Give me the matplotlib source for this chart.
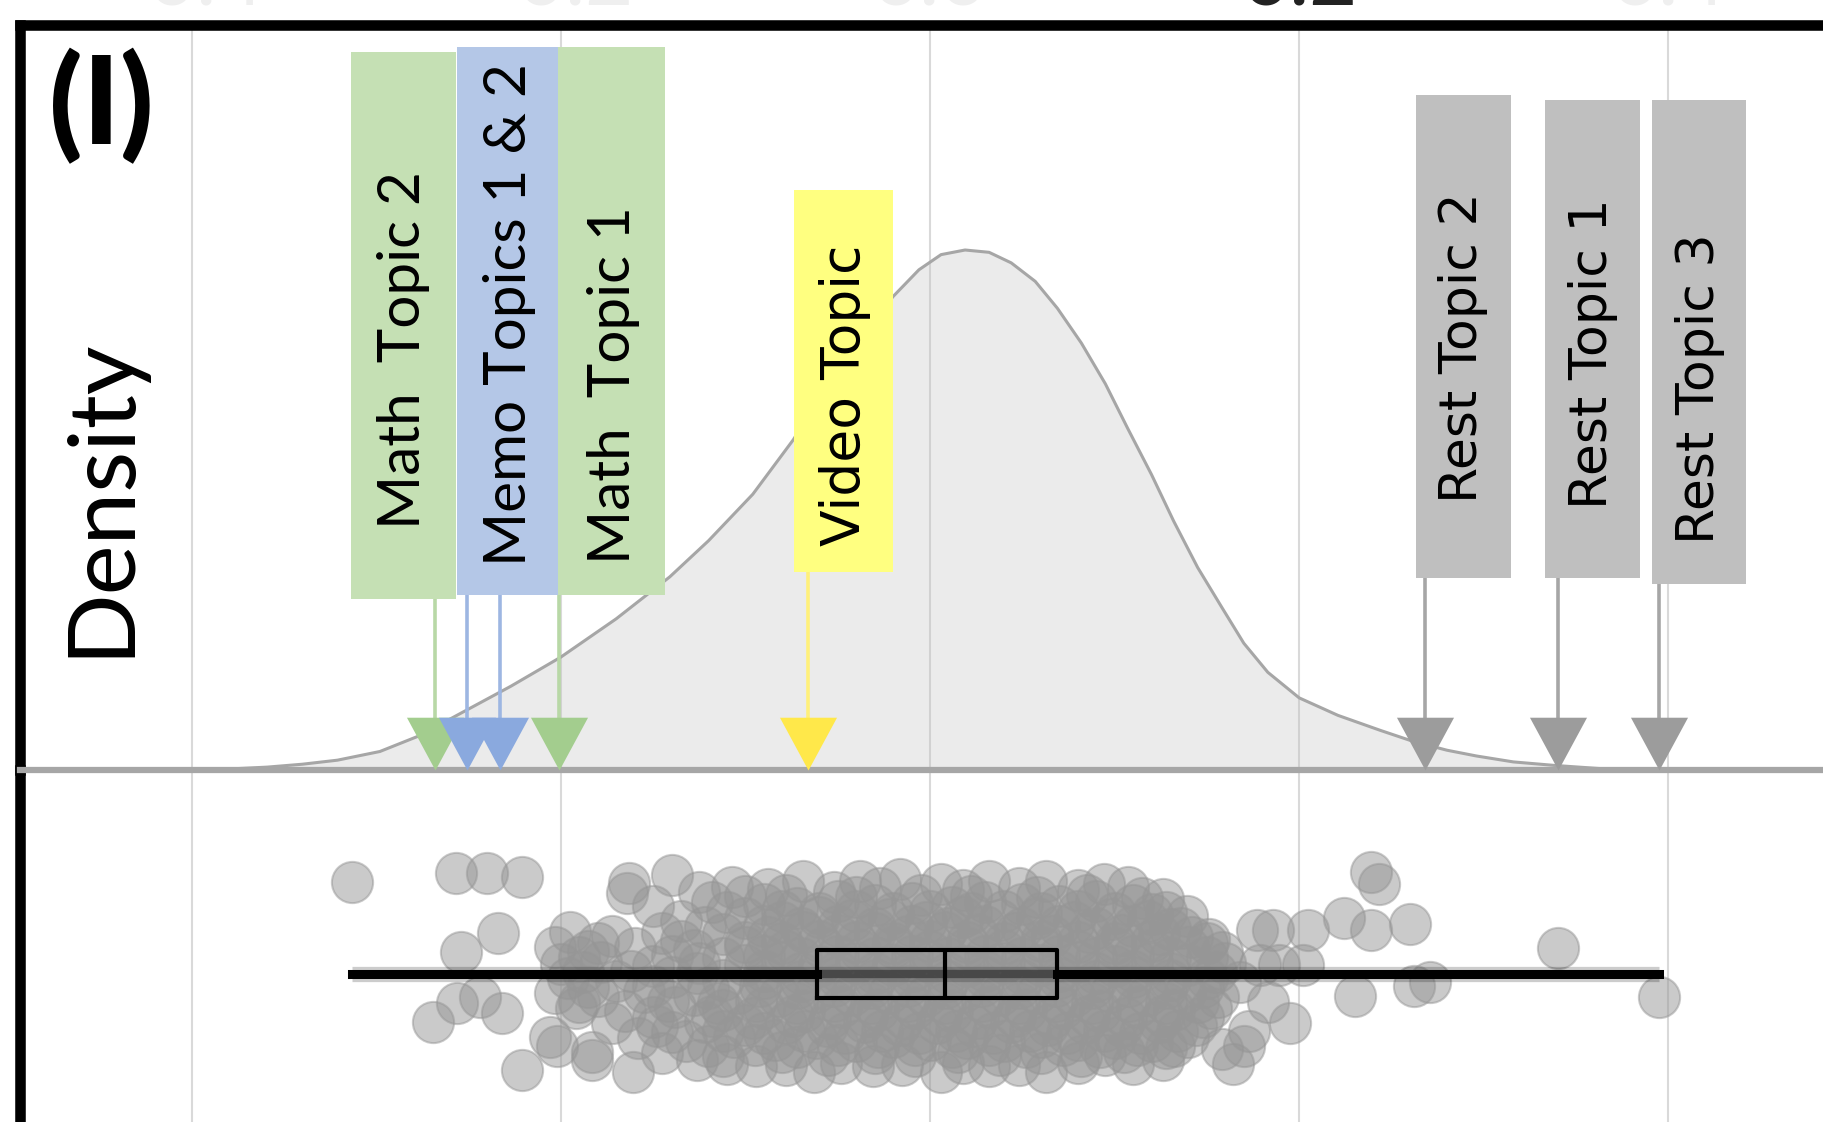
import matplotlib
matplotlib.use("Agg")
import matplotlib.pyplot as plt
from matplotlib.patches import Rectangle

# ---------------------------------------------------------------- data
TICKS = [-0.4, -0.2, 0.0, 0.2, 0.4]
TICK_LABELS = ["-0.4", "-0.2", "0.0", "0.2", "0.4"]

# kernel density of the scores (x, density)
DENSITY_X = [-0.397, -0.378, -0.359, -0.340, -0.321, -0.298, -0.277, -0.254,
             -0.227, -0.200, -0.170, -0.141, -0.120, -0.096, -0.074, -0.057,
             -0.038, -0.020, -0.006, 0.006, 0.019, 0.032, 0.044, 0.057,
             0.069, 0.082, 0.095, 0.107, 0.120, 0.132, 0.145, 0.158, 0.170,
             0.183, 0.200, 0.221, 0.244, 0.261, 0.280, 0.296, 0.316, 0.338,
             0.365, 0.397, 0.441]
DENSITY_Y = [0.000, 0.008, 0.020, 0.040, 0.068, 0.128, 0.235, 0.394,
             0.580, 0.781, 1.046, 1.336, 1.586, 1.908, 2.286, 2.632,
             2.994, 3.276, 3.461, 3.566, 3.598, 3.582, 3.509, 3.381,
             3.195, 2.954, 2.672, 2.366, 2.044, 1.722, 1.401, 1.127, 0.877,
             0.676, 0.499, 0.378, 0.274, 0.201, 0.137, 0.097, 0.056, 0.032,
             0.008, 0.000, 0.000]

# individual scores (x) with their vertical jitter in the strip
STRIP_POINTS = [
    # low tail
    (-0.313, 0.92), (-0.257, 1.01), (-0.240, 1.01), (-0.221, 0.97),
    (-0.234, 0.41), (-0.254, 0.22), (-0.244, -0.23), (-0.256, -0.29),
    (-0.232, -0.39), (-0.269, -0.48), (-0.206, -0.63), (-0.202, -0.72),
    (-0.183, -0.78), (-0.183, -0.86), (-0.221, -0.96), (-0.163, 0.91),
    # high tail
    (0.239, 1.02), (0.243, 0.90), (0.224, 0.56), (0.260, 0.50), (0.239, 0.44),
    (0.177, 0.44), (0.186, 0.44), (0.205, 0.44), (0.179, 0.09), (0.189, 0.09),
    (0.202, 0.09), (0.340, 0.26), (0.271, -0.08), (0.262, -0.12),
    (0.230, -0.22), (0.395, -0.23), (0.195, -0.49), (0.170, -0.72),
    (0.164, -0.90),
    # main body, upper rim
    (-0.164, 0.81), (-0.140, 0.99), (-0.107, 0.87), (-0.069, 0.93),
    (-0.038, 0.93), (-0.016, 0.95), (0.006, 0.90), (0.032, 0.93),
    (0.063, 0.93), (0.107, 0.87), (0.126, 0.75), (0.139, 0.58), (0.151, 0.35),
    (-0.125, 0.82), (-0.088, 0.85), (-0.052, 0.82), (-0.027, 0.86),
    (0.018, 0.84), (0.048, 0.86), (0.080, 0.84), (0.094, 0.90),
    # main body, lower rim
    (-0.161, -0.98), (-0.126, -0.86), (-0.094, -0.92), (-0.063, -0.98),
    (-0.031, -0.92), (0.006, -0.98), (0.032, -0.92), (0.063, -0.98),
    (0.095, -0.81), (0.126, -0.86), (0.158, -0.75), (0.173, -0.57),
    (0.183, -0.28),
    # main body
    (-0.100, 0.78), (-0.078, 0.79), (-0.040, 0.77), (-0.005, 0.79),
    (0.022, 0.78), (0.058, 0.77), (0.085, 0.79), (0.115, 0.76),
    (-0.150, 0.68), (-0.118, 0.72), (-0.090, 0.70), (-0.072, 0.66),
    (-0.050, 0.73), (-0.030, 0.69), (-0.010, 0.71), (0.012, 0.67),
    (0.030, 0.72), (0.050, 0.70), (0.070, 0.68), (0.090, 0.73),
    (0.110, 0.69), (0.128, 0.62),
    (-0.110, 0.62), (-0.080, 0.63), (-0.060, 0.61), (-0.040, 0.63),
    (-0.020, 0.61), (0.000, 0.63), (0.022, 0.61), (0.040, 0.63),
    (0.060, 0.61), (0.080, 0.63), (0.100, 0.61), (0.120, 0.60),
    (-0.135, 0.53), (-0.100, 0.56), (-0.080, 0.52), (-0.060, 0.57),
    (-0.042, 0.54), (-0.022, 0.55), (-0.002, 0.52), (0.018, 0.57),
    (0.038, 0.54), (0.058, 0.56), (0.078, 0.52), (0.098, 0.55),
    (0.118, 0.53), (0.136, 0.46),
    (-0.122, 0.47), (-0.090, 0.48), (-0.070, 0.46), (-0.050, 0.48),
    (-0.030, 0.46), (-0.010, 0.48), (0.010, 0.46), (0.030, 0.48),
    (0.050, 0.46), (0.070, 0.48), (0.090, 0.46), (0.110, 0.48), (0.130, 0.45),
    (-0.195, 0.42), (-0.172, 0.38), (-0.145, 0.41), (-0.112, 0.40),
    (-0.088, 0.37), (-0.068, 0.42), (-0.050, 0.39), (-0.030, 0.41),
    (-0.012, 0.38), (0.008, 0.42), (0.026, 0.39), (0.046, 0.41),
    (0.066, 0.38), (0.086, 0.42), (0.104, 0.39), (0.124, 0.40), (0.142, 0.37),
    (-0.180, 0.31), (-0.135, 0.33), (-0.100, 0.32), (-0.080, 0.31),
    (-0.060, 0.33), (-0.040, 0.32), (-0.020, 0.31), (0.000, 0.33),
    (0.020, 0.32), (0.040, 0.31), (0.060, 0.33), (0.080, 0.32),
    (0.100, 0.31), (0.120, 0.33), (0.150, 0.31),
    (-0.203, 0.27), (-0.185, 0.23), (-0.160, 0.26), (-0.128, 0.24),
    (-0.100, 0.27), (-0.078, 0.23), (-0.058, 0.26), (-0.038, 0.24),
    (-0.020, 0.27), (0.000, 0.23), (0.020, 0.26), (0.040, 0.24),
    (0.060, 0.27), (0.080, 0.23), (0.100, 0.26), (0.120, 0.24),
    (0.140, 0.27), (0.158, 0.22),
    (-0.190, 0.17), (-0.140, 0.18), (-0.112, 0.16), (-0.090, 0.18),
    (-0.070, 0.16), (-0.050, 0.18), (-0.030, 0.16), (-0.010, 0.18),
    (0.010, 0.16), (0.030, 0.18), (0.050, 0.16), (0.070, 0.18),
    (0.090, 0.16), (0.110, 0.18), (0.130, 0.16), (0.150, 0.17),
    (-0.200, 0.10), (-0.178, 0.12), (-0.150, 0.08), (-0.125, 0.11),
    (-0.100, 0.09), (-0.080, 0.12), (-0.060, 0.08), (-0.040, 0.11),
    (-0.020, 0.09), (0.000, 0.12), (0.020, 0.08), (0.040, 0.11),
    (0.060, 0.09), (0.080, 0.12), (0.100, 0.08), (0.120, 0.11),
    (0.140, 0.09), (0.160, 0.11),
    (-0.188, 0.02), (-0.162, 0.03), (-0.126, 0.01), (-0.090, 0.03),
    (-0.070, 0.01), (-0.050, 0.03), (-0.030, 0.01), (-0.010, 0.03),
    (0.010, 0.01), (0.030, 0.03), (0.050, 0.01), (0.070, 0.03),
    (0.090, 0.01), (0.110, 0.03), (0.130, 0.01), (0.155, 0.02),
    (-0.196, -0.04), (-0.170, -0.07), (-0.140, -0.03), (-0.112, -0.06),
    (-0.090, -0.04), (-0.070, -0.07), (-0.050, -0.03), (-0.030, -0.06),
    (-0.010, -0.04), (0.010, -0.07), (0.030, -0.03), (0.050, -0.06),
    (0.070, -0.04), (0.090, -0.07), (0.110, -0.03), (0.130, -0.06),
    (0.150, -0.04), (0.168, -0.08),
    (-0.185, -0.13), (-0.150, -0.12), (-0.120, -0.14), (-0.092, -0.12),
    (-0.072, -0.14), (-0.052, -0.12), (-0.032, -0.14), (-0.012, -0.12),
    (0.008, -0.14), (0.028, -0.12), (0.048, -0.14), (0.068, -0.12),
    (0.088, -0.14), (0.108, -0.12), (0.128, -0.14), (0.148, -0.13),
    (-0.203, -0.19), (-0.180, -0.22), (-0.155, -0.18), (-0.128, -0.21),
    (-0.104, -0.19), (-0.082, -0.22), (-0.062, -0.18), (-0.042, -0.21),
    (-0.022, -0.19), (-0.002, -0.22), (0.018, -0.18), (0.038, -0.21),
    (0.058, -0.19), (0.078, -0.22), (0.098, -0.18), (0.118, -0.21),
    (0.138, -0.19), (0.156, -0.23),
    (-0.190, -0.28), (-0.142, -0.27), (-0.115, -0.29), (-0.094, -0.27),
    (-0.072, -0.29), (-0.052, -0.27), (-0.032, -0.29), (-0.012, -0.27),
    (0.008, -0.29), (0.028, -0.27), (0.048, -0.29), (0.068, -0.27),
    (0.088, -0.29), (0.108, -0.27), (0.128, -0.29), (0.145, -0.28),
    (-0.192, -0.34), (-0.165, -0.37), (-0.138, -0.33), (-0.112, -0.36),
    (-0.090, -0.34), (-0.068, -0.37), (-0.048, -0.33), (-0.028, -0.36),
    (-0.008, -0.34), (0.012, -0.37), (0.032, -0.33), (0.052, -0.36),
    (0.072, -0.34), (0.092, -0.37), (0.112, -0.33), (0.132, -0.36),
    (0.152, -0.34),
    (-0.150, -0.43), (-0.118, -0.42), (-0.096, -0.44), (-0.074, -0.42),
    (-0.054, -0.44), (-0.034, -0.42), (-0.014, -0.44), (0.006, -0.42),
    (0.026, -0.44), (0.046, -0.42), (0.066, -0.44), (0.086, -0.42),
    (0.106, -0.44), (0.126, -0.42), (0.148, -0.43),
    (-0.172, -0.49), (-0.148, -0.52), (-0.122, -0.48), (-0.100, -0.51),
    (-0.078, -0.49), (-0.056, -0.52), (-0.036, -0.48), (-0.016, -0.51),
    (0.004, -0.49), (0.024, -0.52), (0.044, -0.48), (0.064, -0.51),
    (0.084, -0.49), (0.104, -0.52), (0.124, -0.48), (0.144, -0.51),
    (-0.140, -0.58), (-0.112, -0.57), (-0.090, -0.59), (-0.068, -0.57),
    (-0.046, -0.59), (-0.026, -0.57), (-0.006, -0.59), (0.014, -0.57),
    (0.034, -0.59), (0.054, -0.57), (0.074, -0.59), (0.094, -0.57),
    (0.114, -0.59), (0.134, -0.57),
    (-0.158, -0.64), (-0.132, -0.67), (-0.106, -0.63), (-0.084, -0.66),
    (-0.062, -0.64), (-0.040, -0.67), (-0.020, -0.63), (0.000, -0.66),
    (0.020, -0.64), (0.040, -0.67), (0.060, -0.63), (0.080, -0.66),
    (0.100, -0.64), (0.120, -0.67), (0.140, -0.63),
    (-0.120, -0.72), (-0.095, -0.71), (-0.072, -0.73), (-0.050, -0.71),
    (-0.028, -0.73), (-0.008, -0.71), (0.012, -0.73), (0.032, -0.71),
    (0.052, -0.73), (0.072, -0.71), (0.092, -0.73), (0.112, -0.71),
    (0.132, -0.72),
    (-0.145, -0.79), (-0.112, -0.82), (-0.080, -0.78), (-0.055, -0.81),
    (-0.030, -0.79), (-0.008, -0.82), (0.015, -0.78), (0.038, -0.81),
    (0.060, -0.79), (0.082, -0.82), (0.105, -0.78), (0.128, -0.74),
    (-0.110, -0.90), (-0.078, -0.91), (-0.048, -0.89), (-0.015, -0.91),
    (0.018, -0.89), (0.048, -0.91), (0.080, -0.89), (0.110, -0.90),
]

BOX_Q1 = -0.061
BOX_MEDIAN = 0.008
BOX_Q3 = 0.069

# labelled topics and the score(s) each one points to
TOPIC_LABELS = ["Math  Topic 2", "Memo Topics 1 & 2", "Math  Topic 1",
                "Video Topic", "Rest Topic 2", "Rest Topic 1", "Rest Topic 3"]
TOPIC_SCORES = [[-0.268], [-0.251, -0.233], [-0.201], [-0.066],
                [0.268], [0.340], [0.395]]
TOPIC_KIND = ["math", "memo", "math", "video", "rest", "rest", "rest"]

# ---------------------------------------------------------------- style
W, H = 1823, 1122
PX_PER_UNIT = 1846.0          # horizontal scale of the score axis
ZERO_PX = 930.0
LEFT_PX, TOP_PX, BASE_PX, BOTTOM_PX = 19.5, 25.0, 770.0, 1160.0
RIGHT_PX = 1900.0
DENS_TOP = (BASE_PX - TOP_PX) / 520.0 * 3.598
STRIP_TOP, STRIP_BOTTOM = 2.04, -1.86

BOX_FILL = {"math": "#c5e0b4", "memo": "#b4c7e7", "video": "#ffff80",
            "rest": "#bfbfbf"}
STEM_COLOR = {"math": "#b8d8a6", "memo": "#9db6e2", "video": "#fff07a",
              "rest": "#a6a6a6"}
HEAD_COLOR = {"math": "#a3cd8e", "memo": "#8aa9de", "video": "#ffe84a",
              "rest": "#9c9c9c"}
TEXT_FONT = {"math": "Lato", "memo": "Lato", "video": "DejaVu Sans",
             "rest": "DejaVu Sans"}
TEXT_SIZE = {"math": 42, "memo": 42, "video": 38.5, "rest": 37.5}

# label box (left, right, top, bottom) and text anchor (centre x, start y), px
BOX_LAYOUT = [(351, 456, 52, 599), (457, 558, 47, 595), (558, 665, 47, 595),
              (794, 893, 190, 572), (1416, 1511, 95, 578),
              (1545, 1640, 100, 578), (1652, 1746, 100, 584)]
TEXT_ANCHOR = [(403, 529), (509, 566), (614, 564), (845, 546),
               (1463, 503), (1593, 509), (1700, 544)]
HEAD_TOP_PX = 52.0


def fx(px):
    return px / W


def fy(py):
    return 1.0 - py / H


fig = plt.figure(figsize=(W / 100, H / 100), dpi=100, facecolor="white")

x_lo = -(ZERO_PX - LEFT_PX) / PX_PER_UNIT
x_hi = (RIGHT_PX - ZERO_PX) / PX_PER_UNIT
ax_w = (RIGHT_PX - LEFT_PX) / W

ax_s = fig.add_axes([fx(LEFT_PX), fy(BOTTOM_PX), ax_w, (BOTTOM_PX - BASE_PX) / H])
ax_d = fig.add_axes([fx(LEFT_PX), fy(BASE_PX), ax_w, (BASE_PX - TOP_PX) / H])
ax_d.set_zorder(2)

for ax in (ax_d, ax_s):
    ax.set_facecolor("none")
    ax.set_xlim(x_lo, x_hi)
    ax.set_xticks(TICKS)
    ax.set_yticks([])
    ax.tick_params(length=0, labelbottom=False, labelleft=False)
    ax.set_axisbelow(True)
    ax.grid(axis="x", color="#d9d9d9", lw=1.5)
    for side in ("right", "bottom", "top"):
        ax.spines[side].set_visible(False)
    ax.spines["left"].set_linewidth(7.6)
    ax.spines["left"].set_color("black")

ax_d.spines["top"].set_visible(True)
ax_d.spines["top"].set_linewidth(7.6)
ax_d.spines["top"].set_color("black")
ax_d.spines["top"].set_capstyle("projecting")
ax_d.spines["left"].set_capstyle("projecting")

ax_d.set_ylim(0, DENS_TOP)
ax_s.set_ylim(STRIP_BOTTOM, STRIP_TOP)

# density curve
ax_d.fill_between(DENSITY_X, DENSITY_Y, 0, color="#bfbfbf", alpha=0.3,
                  lw=0, zorder=1.5)
ax_d.plot(DENSITY_X, DENSITY_Y, color="#a6a6a6", lw=2.2, zorder=2)
ax_d.axhline(0, color="#a6a6a6", lw=4.5, clip_on=False, zorder=3)

# topic arrows
tri = [(-1.0, 1.85), (1.0, 1.85), (0.0, 0.0)]
xt = ax_d.get_xaxis_transform()
for kind, scores, (l, r, t, b) in zip(TOPIC_KIND, TOPIC_SCORES, BOX_LAYOUT):
    for s in scores:
        ax_d.plot([s, s], [(BASE_PX - b) / (BASE_PX - TOP_PX),
                           HEAD_TOP_PX / (BASE_PX - TOP_PX)],
                  transform=xt, color=STEM_COLOR[kind], lw=2.6,
                  clip_on=False, zorder=3.5)
        ax_d.plot([s], [0], marker=tri, ms=76, ls="none",
                  color=HEAD_COLOR[kind], mew=0, clip_on=False, zorder=4)

# label boxes
for label, kind, (l, r, t, b), (cx, cy) in zip(TOPIC_LABELS, TOPIC_KIND,
                                               BOX_LAYOUT, TEXT_ANCHOR):
    fig.add_artist(Rectangle((fx(l), fy(b)), fx(r) - fx(l), fy(t) - fy(b),
                             transform=fig.transFigure,
                             facecolor=BOX_FILL[kind], edgecolor="none",
                             zorder=5))
    fig.text(fx(cx), fy(cy), label, rotation=90, ha="center", va="bottom",
             fontsize=TEXT_SIZE[kind], family=TEXT_FONT[kind],
             color="black", zorder=6)

# strip of individual scores with box plot
sx = [p[0] for p in STRIP_POINTS]
sj = [p[1] for p in STRIP_POINTS]
ax_s.scatter(sx, sj, s=880, c="#969696", alpha=0.5, edgecolors="#969696",
             linewidths=1.5, zorder=2)

stats = [dict(med=BOX_MEDIAN, q1=BOX_Q1, q3=BOX_Q3,
              whislo=min(sx), whishi=max(sx), fliers=[])]
ax_s.hlines(0, min(sx), max(sx), color="black", lw=11, alpha=0.2, zorder=3)
bxp_kw = dict(positions=[0], widths=[0.48], showcaps=False,
              showfliers=False, manage_ticks=False, zorder=4,
              boxprops=dict(color="black", lw=3),
              medianprops=dict(color="black", lw=3),
              whiskerprops=dict(color="black", lw=6.5))
try:
    ax_s.bxp(stats, orientation="horizontal", **bxp_kw)
except TypeError:
    ax_s.bxp(stats, vert=False, **bxp_kw)
ax_s.hlines(0, BOX_Q1, BOX_Q3, color="black", lw=6, alpha=0.4, zorder=4)

# panel tag and axis title
fig.text(fx(101), fy(106), "(I)", ha="center", va="center", fontsize=88,
         fontweight="black", family="Lato")
fig.text(fx(101), fy(497), "Density", rotation=90, ha="center", va="center",
         fontsize=68, family="Lato")

# tick labels of the shared score axis, mostly above the panel edge
for t, lab in zip(TICKS, TICK_LABELS):
    ax_d.text(t, (BASE_PX - 6) / (BASE_PX - TOP_PX), lab, transform=xt,
              ha="center", va="baseline", fontsize=60, family="Lato",
              color="#222222" if lab == "0.2" else "#efefef", clip_on=False)

fig.savefig("out.png", dpi=100, facecolor="white")
